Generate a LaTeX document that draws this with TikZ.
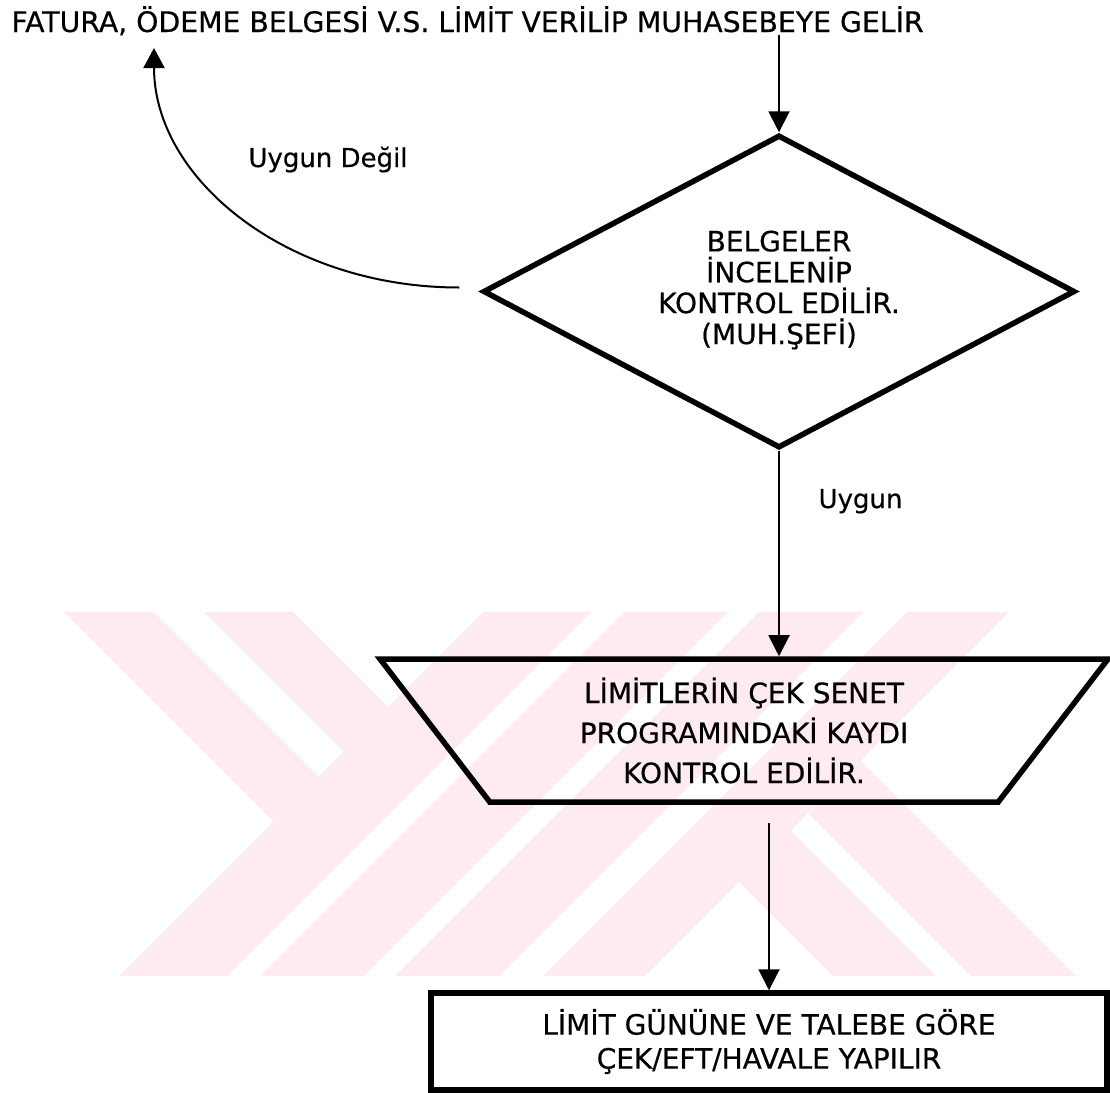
\documentclass[tikz,border=0pt]{standalone}
\usepackage{fontspec}
\setmainfont{DejaVu Sans}
\newfontfamily\heavy{DejaVu Sans}[FakeBold=0.5]
\usetikzlibrary{shapes.geometric,arrows.meta,calc}
\definecolor{wmpink}{RGB}{253,235,239}
\begin{document}
\begin{tikzpicture}[x=1pt,y=-1pt,
  every node/.style={font=\heavy\fontsize{28}{31}\selectfont},
  shapeline/.style={draw=black,line width=5.5pt,line join=miter},
  arr/.style={draw=black,line width=2pt,-{Triangle[length=21pt,width=21pt]}},
  lbl/.style={inner sep=0pt,anchor=base},
  small/.style={font=\heavy\fontsize{26}{31}\selectfont},
  wm/.style={fill=wmpink}]
\useasboundingbox (0,0) rectangle (1110,1092);

% background emblem: diagonal bands
\fill[wm] (64,612) -- (154,612) -- (318.5,776.5) -- (273.5,821.5) -- cycle;
\fill[wm] (204,612) -- (293,612) -- (388,707) -- (343.5,751.5) -- cycle;
\fill[wm] (119,976) -- (227,976) -- (591,612) -- (483,612) -- cycle;
\fill[wm] (260,976) -- (364,976) -- (728,612) -- (624,612) -- cycle;
\fill[wm] (395,976) -- (499,976) -- (863,612) -- (759,612) -- cycle;
\fill[wm] (543,976) -- (645,976) -- (1009,612) -- (907,612) -- cycle;
\fill[wm] (739,882) -- (790.5,830.5) -- (936,976) -- (833,976) -- cycle;
\fill[wm] (808,813) -- (860.5,760.5) -- (1076,976) -- (971,976) -- cycle;

% flow elements
\node[lbl,font=\heavy\fontsize{28.3}{31}\selectfont] (title) at (467.5,32)
  {FATURA, ÖDEME BELGESİ V.S. LİMİT VERİLİP MUHASEBEYE GELİR};

\node[shapeline,diamond,aspect=1.89,minimum width=592pt,minimum height=313pt,
      inner sep=0pt] (check) at (779,291.5)
  {\raisebox{6pt}{\begin{tabular}{@{}c@{}}BELGELER\\[-4pt]İNCELENİP\\[-4pt]KONTROL EDİLİR.\\[-4pt](MUH.ŞEFİ)\end{tabular}}};

\node[shapeline,trapezium,trapezium left angle=44,trapezium right angle=44,
      shape border rotate=180,trapezium stretches body,
      minimum width=728pt,minimum height=143pt,inner sep=0pt,
      align=center,font=\heavy\fontsize{28}{40}\selectfont] (proc) at (744,730.5)
  {LİMİTLERİN ÇEK SENET\\PROGRAMINDAKİ KAYDI\\KONTROL EDİLİR.};

\node[shapeline,rectangle,minimum width=676pt,minimum height=97pt,inner sep=0pt,
      align=center,font=\heavy\fontsize{28}{34}\selectfont] (pay) at (769,1041.5)
  {LİMİT GÜNÜNE VE TALEBE GÖRE\\ÇEK/EFT/HAVALE YAPILIR};

% connectors
\draw[arr] (check.north |- title.south) -- (check.north);
\draw[arr] (check.south) -- (check.south |- proc.north);
\draw[arr] ($(pay.north |- proc.south)+(0,18)$) -- (pay.north);

\coordinate (back) at (154,48);
\draw[arr,-{Triangle[length=20pt,width=21pt]}]
  ($(check.west)+(-21,-4)$) .. controls +(-171,0) and +(0,132) .. (back);

% connector labels
\node[lbl,small] (notok) at (328,167) {Uygun Değil};
\node[lbl,small] (ok) at (860.5,508) {Uygun};
\end{tikzpicture}
\end{document}
